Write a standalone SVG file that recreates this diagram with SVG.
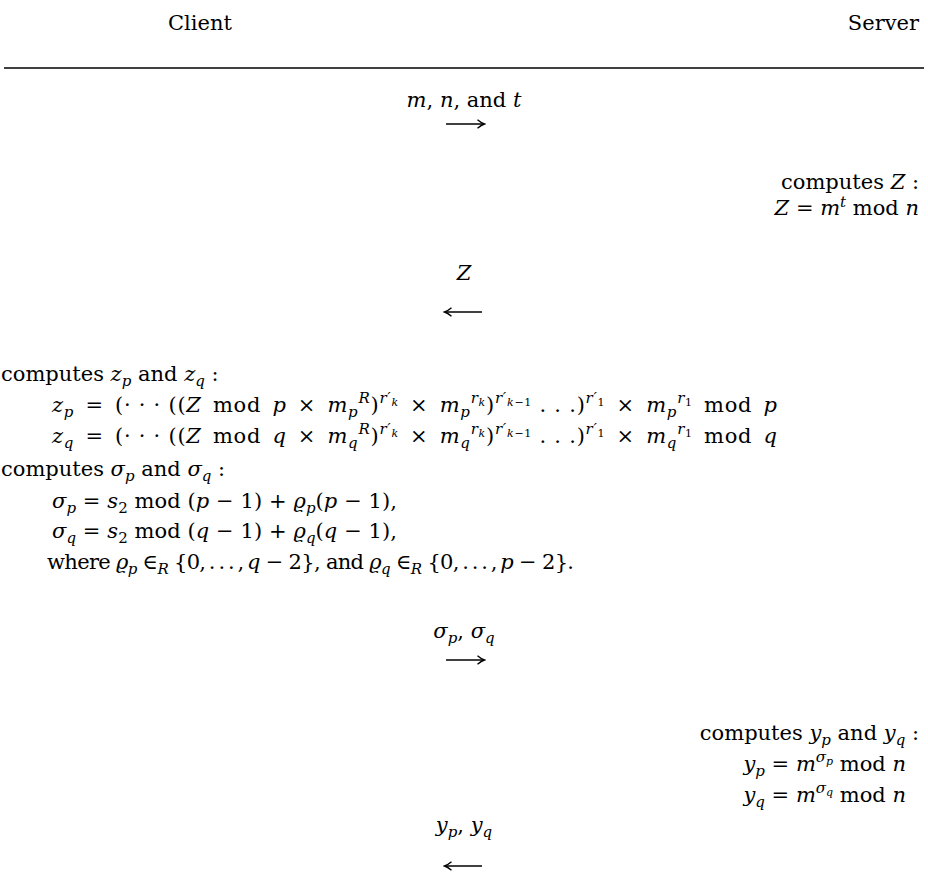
<svg xmlns="http://www.w3.org/2000/svg" width="928" height="881" viewBox="0 0 928 881">
<style>
.t{font-family:"DejaVu Serif","Liberation Serif",serif;font-size:21px;fill:#000}
.i{font-style:italic}
.s{font-size:15px}
.ss{font-size:11px}
.c{text-anchor:middle}
.e{text-anchor:end}
.conn line{stroke:#000;stroke-width:1.5;fill:none}
</style>
<defs>
<marker id="ah" viewBox="-8 -5 10 10" refX="0" refY="0" markerWidth="10" markerHeight="10" markerUnits="userSpaceOnUse" orient="auto">
<path d="M-6.5,-4.2 Q-2.5,-0.8 0.5,0 Q-2.5,0.8 -6.5,4.2" fill="none" stroke="#000" stroke-width="1.4"/>
</marker>
</defs>
<rect width="928" height="881" fill="#fff"/>
<g id="header">
<text class="t c" x="200" y="30">Client</text>
<text class="t e" x="919" y="30">Server</text>
<line x1="4" y1="68" x2="924" y2="68" stroke="#000" stroke-width="1.4"/>
</g>
<g id="msg1"><text class="t c" x="464" y="107"><tspan class="i">m</tspan>, <tspan class="i">n</tspan>, and <tspan class="i">t</tspan></text></g>
<g id="server1">
<text class="t e" x="919" y="189">computes <tspan class="i">Z</tspan> :</text>
<text class="t e" x="919" y="215"><tspan class="i">Z</tspan> = <tspan class="i">m</tspan><tspan class="s i" dy="-8">t</tspan><tspan dy="8"> mod </tspan><tspan class="i">n</tspan></text>
</g>
<g id="msg2"><text class="t c i" x="464" y="280">Z</text></g>
<g id="client1">
<text class="t" x="1" y="381">computes <tspan class="i">z</tspan><tspan class="s i" dy="5">p</tspan><tspan dy="-5"> and </tspan><tspan class="i">z</tspan><tspan class="s i" dy="5">q</tspan><tspan dy="-5"> :</tspan></text>
<text class="t" x="52" y="412" textLength="725" lengthAdjust="spacing"><tspan class="i">z</tspan><tspan class="s i" dy="5">p</tspan><tspan dy="-5">&#8194;=&#8194;(· · · ((</tspan><tspan class="i">Z</tspan>&#8194;mod&#8194;<tspan class="i">p</tspan>&#8194;×&#8194;<tspan class="i">m</tspan><tspan class="s i" dy="5">p</tspan><tspan class="s i" dy="-14">R</tspan><tspan dy="9">)</tspan><tspan class="s i" dy="-9">r′</tspan><tspan class="ss i" dy="3">k</tspan><tspan dy="6">&#8194;×&#8194;</tspan><tspan class="i">m</tspan><tspan class="s i" dy="5">p</tspan><tspan class="s i" dy="-14">r</tspan><tspan class="ss i" dy="3">k</tspan><tspan dy="6">)</tspan><tspan class="s i" dy="-9">r′</tspan><tspan class="ss" dy="3"><tspan class="i">k</tspan>−1</tspan><tspan dy="6"> . . .)</tspan><tspan class="s i" dy="-9">r′</tspan><tspan class="ss" dy="3">1</tspan><tspan dy="6">&#8194;×&#8194;</tspan><tspan class="i">m</tspan><tspan class="s i" dy="5">p</tspan><tspan class="s i" dy="-14">r</tspan><tspan class="ss" dy="3">1</tspan><tspan dy="6">&#8194;mod&#8194;</tspan><tspan class="i">p</tspan></text>
<text class="t" x="52" y="443" textLength="725" lengthAdjust="spacing"><tspan class="i">z</tspan><tspan class="s i" dy="5">q</tspan><tspan dy="-5">&#8194;=&#8194;(· · · ((</tspan><tspan class="i">Z</tspan>&#8194;mod&#8194;<tspan class="i">q</tspan>&#8194;×&#8194;<tspan class="i">m</tspan><tspan class="s i" dy="5">q</tspan><tspan class="s i" dy="-14">R</tspan><tspan dy="9">)</tspan><tspan class="s i" dy="-9">r′</tspan><tspan class="ss i" dy="3">k</tspan><tspan dy="6">&#8194;×&#8194;</tspan><tspan class="i">m</tspan><tspan class="s i" dy="5">q</tspan><tspan class="s i" dy="-14">r</tspan><tspan class="ss i" dy="3">k</tspan><tspan dy="6">)</tspan><tspan class="s i" dy="-9">r′</tspan><tspan class="ss" dy="3"><tspan class="i">k</tspan>−1</tspan><tspan dy="6"> . . .)</tspan><tspan class="s i" dy="-9">r′</tspan><tspan class="ss" dy="3">1</tspan><tspan dy="6">&#8194;×&#8194;</tspan><tspan class="i">m</tspan><tspan class="s i" dy="5">q</tspan><tspan class="s i" dy="-14">r</tspan><tspan class="ss" dy="3">1</tspan><tspan dy="6">&#8194;mod&#8194;</tspan><tspan class="i">q</tspan></text>
<text class="t" x="1" y="476">computes <tspan class="i">σ</tspan><tspan class="s i" dy="5">p</tspan><tspan dy="-5"> and </tspan><tspan class="i">σ</tspan><tspan class="s i" dy="5">q</tspan><tspan dy="-5"> :</tspan></text>
<text class="t" x="52" y="508" textLength="345" lengthAdjust="spacing"><tspan class="i">σ</tspan><tspan class="s i" dy="5">p</tspan><tspan dy="-5"> = </tspan><tspan class="i">s</tspan><tspan class="s" dy="5">2</tspan><tspan dy="-5"> mod (</tspan><tspan class="i">p</tspan> − 1) + <tspan class="i">ϱ</tspan><tspan class="s i" dy="5">p</tspan><tspan dy="-5">(</tspan><tspan class="i">p</tspan> − 1),</text>
<text class="t" x="52" y="538" textLength="345" lengthAdjust="spacing"><tspan class="i">σ</tspan><tspan class="s i" dy="5">q</tspan><tspan dy="-5"> = </tspan><tspan class="i">s</tspan><tspan class="s" dy="5">2</tspan><tspan dy="-5"> mod (</tspan><tspan class="i">q</tspan> − 1) + <tspan class="i">ϱ</tspan><tspan class="s i" dy="5">q</tspan><tspan dy="-5">(</tspan><tspan class="i">q</tspan> − 1),</text>
<text class="t" x="47" y="569" textLength="527" lengthAdjust="spacing">where <tspan class="i">ϱ</tspan><tspan class="s i" dy="5">p</tspan><tspan dy="-5"> ∈</tspan><tspan class="s i" dy="5">R</tspan><tspan dy="-5"> {0,&#8201;.&#8201;.&#8201;.&#8201;,&#8201;</tspan><tspan class="i">q</tspan> − 2}, and <tspan class="i">ϱ</tspan><tspan class="s i" dy="5">q</tspan><tspan dy="-5"> ∈</tspan><tspan class="s i" dy="5">R</tspan><tspan dy="-5"> {0,&#8201;.&#8201;.&#8201;.&#8201;,&#8201;</tspan><tspan class="i">p</tspan> − 2}.</text>
</g>
<g id="msg3"><text class="t c" x="464" y="638"><tspan class="i">σ</tspan><tspan class="s i" dy="5">p</tspan><tspan dy="-5">, </tspan><tspan class="i">σ</tspan><tspan class="s i" dy="5">q</tspan></text></g>
<g id="server2">
<text class="t e" x="919" y="740">computes <tspan class="i">y</tspan><tspan class="s i" dy="5">p</tspan><tspan dy="-5"> and </tspan><tspan class="i">y</tspan><tspan class="s i" dy="5">q</tspan><tspan dy="-5"> :</tspan></text>
<text class="t e" x="906" y="771"><tspan class="i">y</tspan><tspan class="s i" dy="5">p</tspan><tspan dy="-5"> = </tspan><tspan class="i">m</tspan><tspan class="s i" dy="-9">σ</tspan><tspan class="ss i" dy="3">p</tspan><tspan dy="6"> mod </tspan><tspan class="i">n</tspan></text>
<text class="t e" x="906" y="802"><tspan class="i">y</tspan><tspan class="s i" dy="5">q</tspan><tspan dy="-5"> = </tspan><tspan class="i">m</tspan><tspan class="s i" dy="-9">σ</tspan><tspan class="ss i" dy="3">q</tspan><tspan dy="6"> mod </tspan><tspan class="i">n</tspan></text>
</g>
<g id="msg4"><text class="t c" x="464" y="832"><tspan class="i">y</tspan><tspan class="s i" dy="5">p</tspan><tspan dy="-5">, </tspan><tspan class="i">y</tspan><tspan class="s i" dy="5">q</tspan></text></g>
<g id="connectors" class="conn">
<line x1="446" y1="124" x2="484" y2="124" marker-end="url(#ah)"/>
<line x1="482" y1="312" x2="445" y2="312" marker-end="url(#ah)"/>
<line x1="446" y1="660" x2="484" y2="660" marker-end="url(#ah)"/>
<line x1="482" y1="866" x2="445" y2="866" marker-end="url(#ah)"/>
</g>
</svg>
